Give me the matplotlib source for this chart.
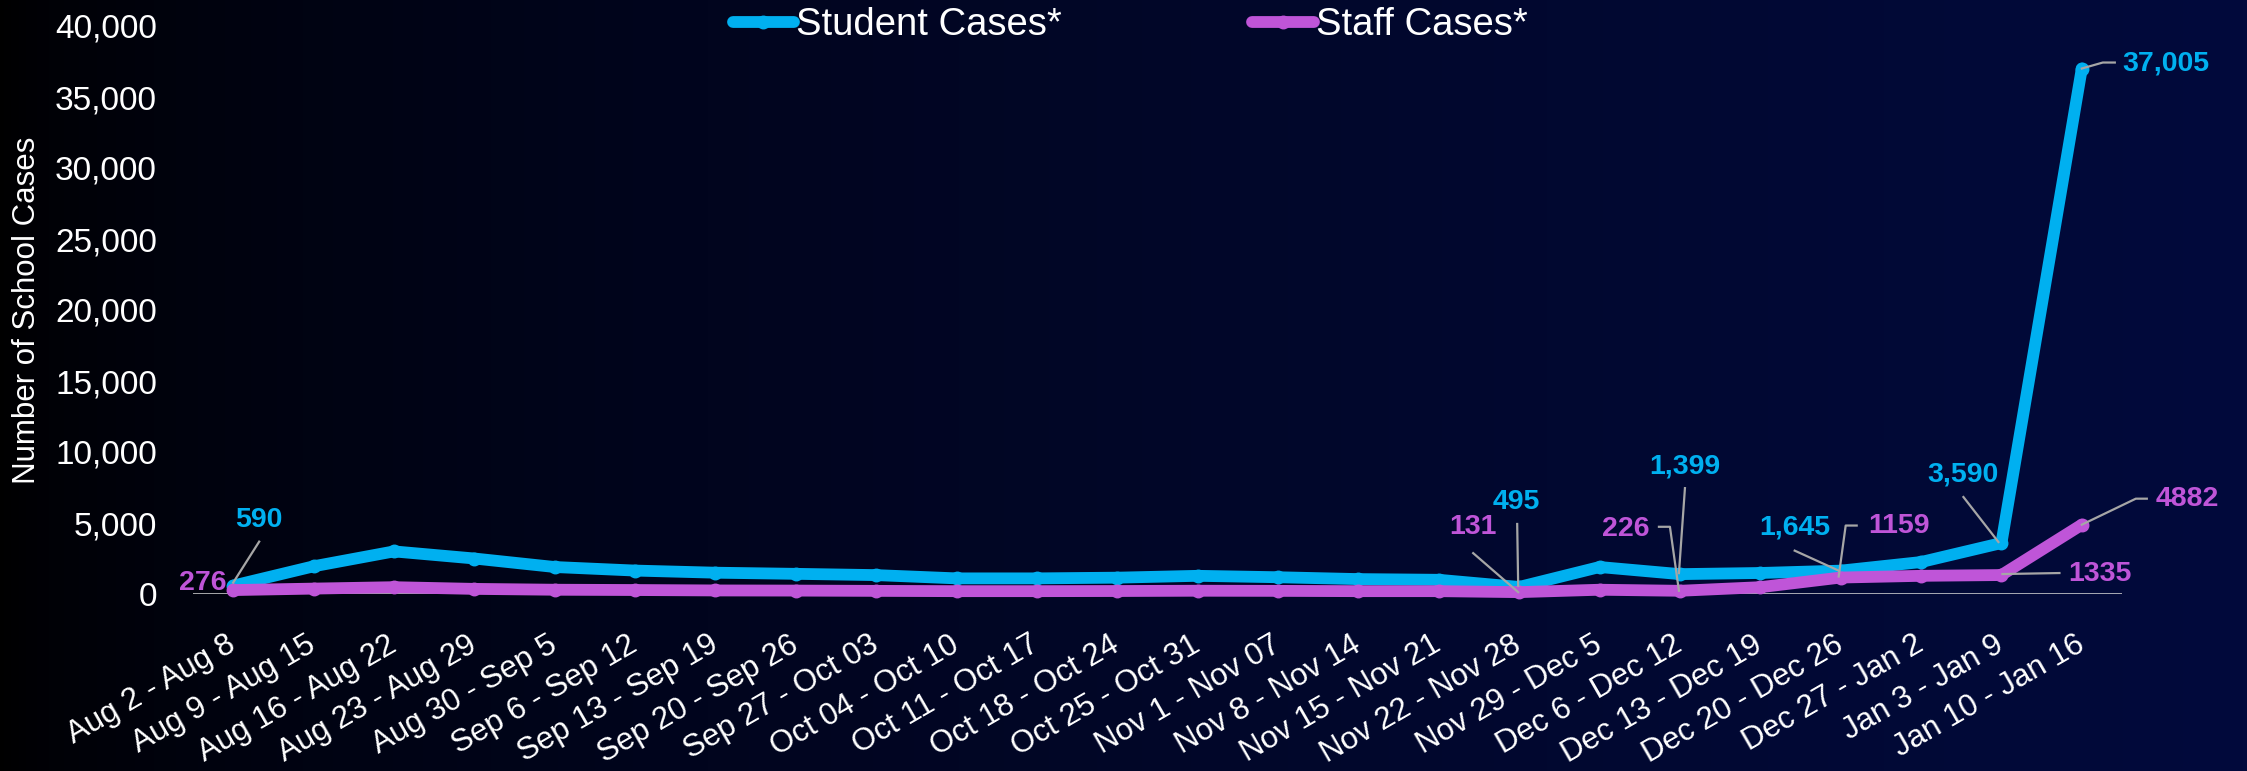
import matplotlib
matplotlib.use('Agg')
import matplotlib.pyplot as plt
import matplotlib.transforms as mtransforms
from matplotlib.ticker import FuncFormatter
import numpy as np

# Data
weeks = ['Aug 2 - Aug 8', 'Aug 9 - Aug 15', 'Aug 16 - Aug 22', 'Aug 23 - Aug 29',
         'Aug 30 - Sep 5', 'Sep 6 - Sep 12', 'Sep 13 - Sep 19', 'Sep 20 - Sep 26',
         'Sep 27 - Oct 03', 'Oct 04 - Oct 10', 'Oct 11 - Oct 17', 'Oct 18 - Oct 24',
         'Oct 25 - Oct 31', 'Nov 1 - Nov 07', 'Nov 8 - Nov 14', 'Nov 15 - Nov 21',
         'Nov 22 - Nov 28', 'Nov 29 - Dec 5', 'Dec 6 - Dec 12', 'Dec 13 - Dec 19',
         'Dec 20 - Dec 26', 'Dec 27 - Jan 2', 'Jan 3 - Jan 9', 'Jan 10 - Jan 16']
student_cases = [590, 1950, 3000, 2500, 1900, 1650, 1500, 1420, 1330, 1100, 1100, 1150,
                 1280, 1180, 1050, 1000, 495, 1900, 1399, 1480, 1645, 2250, 3590, 37005]
staff_cases = [276, 380, 480, 360, 300, 280, 250, 240, 220, 200, 200, 210,
               230, 220, 200, 200, 131, 300, 226, 480, 1159, 1280, 1335, 4882]

# labelled points: (index, label text)
student_labels = [(0, '590'), (16, '495'), (18, '1,399'), (20, '1,645'), (22, '3,590'), (23, '37,005')]
staff_labels = [(0, '276'), (16, '131'), (18, '226'), (20, '1159'), (22, '1335'), (23, '4882')]

BLUE = '#00B0F0'
PURPLE = '#BF55D8'
GREY = '#A6A6A6'

plt.rcParams['font.family'] = ['Liberation Sans', 'DejaVu Sans']

W, H = 2247, 771
fig = plt.figure(figsize=(W / 100, H / 100), dpi=100)

# background gradient: black on the left to dark navy on the right
bg = fig.add_axes([0, 0, 1, 1], zorder=-10)
t = np.linspace(0, 1, 600) ** 0.6
navy = np.array([2, 10, 60]) / 255.0
grad = (t[:, None] * navy[None, :])[None, :, :]
bg.imshow(grad, aspect='auto', extent=[0, 1, 0, 1])
bg.axis('off')

ax = fig.add_axes([193 / W, 1 - 594 / H, (2122 - 193) / W, (594 - 26) / H])
ax.set_facecolor('none')
x = np.arange(len(weeks))
ax.plot(x, student_cases, color=BLUE, lw=8.5, marker='o', ms=9, solid_capstyle='round',
        label='Student Cases*', clip_on=False, zorder=3)
ax.plot(x, staff_cases, color=PURPLE, lw=8.5, marker='o', ms=9, solid_capstyle='round',
        label='Staff Cases*', clip_on=False, zorder=4)
ax.axhline(0, color='#D9D9D9', lw=1.8, zorder=2)

ax.set_xlim(-0.5, len(weeks) - 0.5)
ax.set_ylim(0, 40000)
ax.set_yticks(np.arange(0, 40001, 5000))
ax.yaxis.set_major_formatter(FuncFormatter(lambda v, p: f'{int(v):,}'))
ax.set_xticks(x)
ax.set_xticklabels(weeks, rotation=30, ha='right', va='center', rotation_mode='anchor')
ax.tick_params(axis='x', length=0, pad=35, labelsize=22.5, colors='white')
ax.tick_params(axis='y', length=0, pad=26, labelsize=24, colors='white')
for s in ax.spines.values():
    s.set_visible(False)

ax.set_ylabel('Number of School Cases', color='white', fontsize=22.5, va='center')
ax.yaxis.set_label_coords((27 - 193) / (2122 - 193), 0.5)

leg = ax.legend(loc='center', bbox_to_anchor=(1130 / W, 1 - 25 / H), bbox_transform=fig.transFigure,
                ncol=2, frameon=False, fontsize=27.5, handlelength=1.6, handletextpad=0.05,
                columnspacing=5.0, labelcolor='white')

fig.canvas.draw()

# label offsets in pixels from the data point: text centre, then leader vertices
offsets = {
    ('s', 0): ((26, 66), [(26, 44), (0, 3)]),
    ('s', 16): ((-3, 85), [(-2, 63), (-1, 1)]),
    ('s', 18): ((5, 108), [(5, 86), (-1, 1)]),
    ('s', 20): ((-46, 43), [(-46, 20), (-2, 0)]),
    ('s', 22): ((-38, 69), [(-38, 46), (-3, 1)]),
    ('s', 23): ((84, 5), [(33, 6), (21, 6), (0, 0)]),
    ('f', 0): ((-30, 7), []),
    ('f', 16): ((-46, 65), [(-46, 39), (-1, 0)]),
    ('f', 18): ((-54, 62), [(-21, 64), (-10, 64), (-1, 0)]),
    ('f', 20): ((58, 52), [(16, 52), (5, 52), (-2, 1)]),
    ('f', 22): ((99, 1), [(58, 2), (1, 1)]),
    ('f', 23): ((106, 26), [(65, 26), (54, 26), (0, 0)]),
}
ident = mtransforms.IdentityTransform()


def add_label(key, i, val, txt, color):
    px, py = ax.transData.transform((i, val))
    (tx, ty), path = offsets[key]
    fig.text(px + tx, py + ty, txt, transform=ident, color=color, fontsize=20.5,
             fontweight='bold', ha='center', va='center')
    if path:
        xs = [px + dx for dx, dy in path]
        ys = [py + dy for dx, dy in path]
        fig.add_artist(plt.Line2D(xs, ys, transform=ident, color=GREY, lw=1.6, zorder=5))


for i, txt in student_labels:
    add_label(('s', i), i, student_cases[i], txt, BLUE)
for i, txt in staff_labels:
    add_label(('f', i), i, staff_cases[i], txt, PURPLE)

fig.savefig('out.png', dpi=100)
